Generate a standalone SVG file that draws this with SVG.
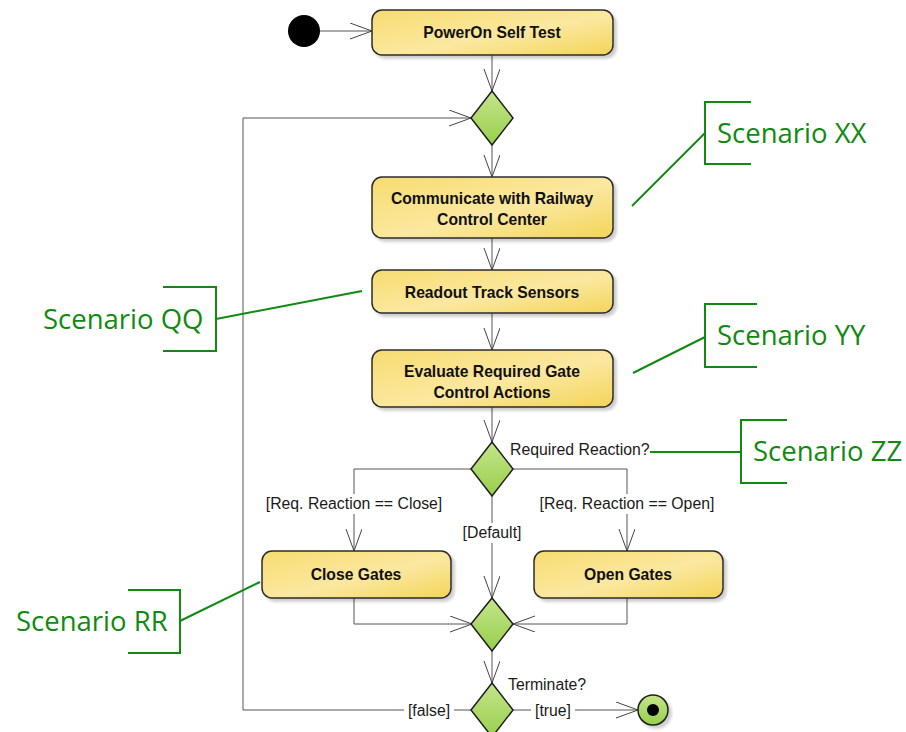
<svg xmlns="http://www.w3.org/2000/svg" width="906" height="732" viewBox="0 0 906 732">
  <style>
    .act { fill: url(#actFill); stroke: #2b2b2b; stroke-width: 1.5; filter: url(#shadow); }
    .actText { font-family: "Liberation Sans", Arial, sans-serif; font-weight: bold; font-size: 15.7px; fill: #111; text-anchor: middle; }
    .dec { fill: url(#decFill); stroke: #1e1e1e; stroke-width: 1.5; }
    .flow { fill: none; stroke: #555; stroke-width: 1; }
    .lbl { font-family: "Liberation Sans", Arial, sans-serif; font-size: 15.8px; fill: #1a1a1a; }
    .lblBg { fill: #fff; }
    .note { fill: none; stroke: #108a10; stroke-width: 2; }
    .noteText { font-family: "Open Sans", "Noto Sans", sans-serif; font-size: 27.5px; fill: #108a10; }
  </style>
  <defs>
    <linearGradient id="actFill" x1="0" y1="0" x2="1" y2="1">
      <stop offset="0" stop-color="#f7dc70"/>
      <stop offset="0.55" stop-color="#fbe8a0"/>
      <stop offset="1" stop-color="#f3d458"/>
    </linearGradient>
    <linearGradient id="decFill" x1="0" y1="0" x2="0" y2="1">
      <stop offset="0" stop-color="#c4e58a"/>
      <stop offset="1" stop-color="#98cf4c"/>
    </linearGradient>
    <filter id="shadow" x="-10%" y="-20%" width="125%" height="150%">
      <feDropShadow dx="3" dy="3" stdDeviation="1.5" flood-color="#000" flood-opacity="0.2"/>
    </filter>
    <marker id="open" markerUnits="userSpaceOnUse" markerWidth="24" markerHeight="18" refX="22" refY="8" orient="auto">
      <path d="M0,0 L22,8 L0,16" fill="none" stroke="#444" stroke-width="1"/>
    </marker>
  </defs>

  <!-- control flows -->
  <g id="connectors">
    <line class="flow" x1="320" y1="31" x2="372" y2="31" marker-end="url(#open)"/>
    <line class="flow" x1="492" y1="55" x2="492" y2="91" marker-end="url(#open)"/>
    <line class="flow" x1="492" y1="145" x2="492" y2="177" marker-end="url(#open)"/>
    <line class="flow" x1="492" y1="238" x2="492" y2="270" marker-end="url(#open)"/>
    <line class="flow" x1="492" y1="313" x2="492" y2="350" marker-end="url(#open)"/>
    <line class="flow" x1="492" y1="407" x2="492" y2="442" marker-end="url(#open)"/>
    <polyline class="flow" points="472,469 354,469 354,551" marker-end="url(#open)"/>
    <polyline class="flow" points="513,469 627,469 627,551" marker-end="url(#open)"/>
    <line class="flow" x1="492" y1="496" x2="492" y2="598" marker-end="url(#open)"/>
    <polyline class="flow" points="354,598 354,624 472,624" marker-end="url(#open)"/>
    <polyline class="flow" points="627,598 627,624 513,624" marker-end="url(#open)"/>
    <line class="flow" x1="492" y1="651" x2="492" y2="683" marker-end="url(#open)"/>
    <polyline class="flow" points="472,710 243,710 243,118 471,118" marker-end="url(#open)"/>
    <line class="flow" x1="513" y1="710" x2="638" y2="710" marker-end="url(#open)"/>

    <rect class="lblBg" x="263" y="494" width="182" height="20"/>
    <text class="lbl" x="354" y="509" text-anchor="middle">[Req. Reaction == Close]</text>
    <rect class="lblBg" x="535" y="494" width="184" height="20"/>
    <text class="lbl" x="627" y="509" text-anchor="middle">[Req. Reaction == Open]</text>
    <rect class="lblBg" x="459" y="523" width="66" height="20"/>
    <text class="lbl" x="492" y="538" text-anchor="middle">[Default]</text>
    <rect class="lblBg" x="404" y="701" width="50" height="20"/>
    <text class="lbl" x="429" y="716" text-anchor="middle">[false]</text>
    <rect class="lblBg" x="531" y="701" width="44" height="20"/>
    <text class="lbl" x="553" y="716" text-anchor="middle">[true]</text>
    <text class="lbl" x="510" y="455">Required Reaction?</text>
    <text class="lbl" x="508" y="690">Terminate?</text>
  </g>

  <g id="initial">
    <circle cx="304" cy="31" r="16" fill="#000"/>
  </g>

  <g id="powerOn">
    <rect class="act" x="372" y="10" width="241" height="45" rx="10"/>
    <text class="actText" x="492" y="38">PowerOn Self Test</text>
  </g>

  <g id="merge1">
    <polygon class="dec" points="492,91 513,118 492,145 471,118"/>
  </g>

  <g id="communicate">
    <rect class="act" x="372" y="177" width="241" height="61" rx="10"/>
    <text class="actText" x="492" y="204">Communicate with Railway</text>
    <text class="actText" x="492" y="225">Control Center</text>
  </g>

  <g id="readout">
    <rect class="act" x="372" y="270" width="241" height="43" rx="10"/>
    <text class="actText" x="492" y="298">Readout Track Sensors</text>
  </g>

  <g id="evaluate">
    <rect class="act" x="372" y="350" width="241" height="57" rx="10"/>
    <text class="actText" x="492" y="377">Evaluate Required Gate</text>
    <text class="actText" x="492" y="398">Control Actions</text>
  </g>

  <g id="decision">
    <polygon class="dec" points="492,442 513,469 492,496 471,469"/>
  </g>

  <g id="closeGates">
    <rect class="act" x="262" y="551" width="189" height="47" rx="10"/>
    <text class="actText" x="356" y="580">Close Gates</text>
  </g>

  <g id="openGates">
    <rect class="act" x="534" y="551" width="189" height="47" rx="10"/>
    <text class="actText" x="628" y="580">Open Gates</text>
  </g>

  <g id="merge2">
    <polygon class="dec" points="492,598 513,624 492,651 471,624"/>
  </g>

  <g id="terminate">
    <polygon class="dec" points="492,683 513,710 492,737 471,710"/>
  </g>

  <g id="final">
    <circle cx="653" cy="710" r="15" fill="url(#decFill)" stroke="#1e1e1e" stroke-width="1.5" filter="url(#shadow)"/>
    <circle cx="653" cy="710" r="6" fill="#000"/>
  </g>

  <!-- scenario annotations -->
  <g id="scenarioXX">
    <polyline class="note" points="751,102 705,102 705,164 751,164"/>
    <line class="note" x1="705" y1="133" x2="632" y2="206"/>
    <text class="noteText" x="717" y="143">Scenario XX</text>
  </g>
  <g id="scenarioYY">
    <polyline class="note" points="757,304 705,304 705,367 757,367"/>
    <line class="note" x1="705" y1="337" x2="633" y2="373"/>
    <text class="noteText" x="717" y="345">Scenario YY</text>
  </g>
  <g id="scenarioZZ">
    <polyline class="note" points="787,420 741,420 741,483 787,483"/>
    <line class="note" x1="650" y1="452" x2="741" y2="452"/>
    <text class="noteText" x="753" y="461">Scenario ZZ</text>
  </g>
  <g id="scenarioQQ">
    <polyline class="note" points="163,287 216,287 216,351 163,351"/>
    <line class="note" x1="216" y1="319" x2="362" y2="291"/>
    <text class="noteText" x="43" y="329">Scenario QQ</text>
  </g>
  <g id="scenarioRR">
    <polyline class="note" points="128,590 180,590 180,653 128,653"/>
    <line class="note" x1="180" y1="621" x2="260" y2="582"/>
    <text class="noteText" x="16" y="631">Scenario RR</text>
  </g>
</svg>
